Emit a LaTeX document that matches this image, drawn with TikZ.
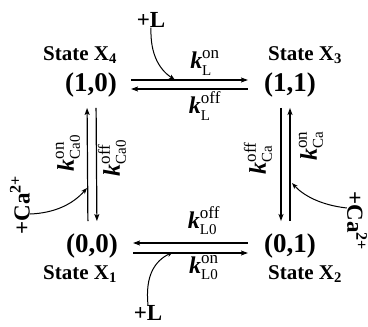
\documentclass[tikz,border=0pt]{standalone}
\usepackage{fontspec}
\setmainfont{Liberation Serif}
\usetikzlibrary{arrows.meta,calc}
\newcommand{\rate}[2]{$\mbox{\bfseries\itshape k}^{\mbox{\fontsize{17}{17}\selectfont #1}}_{\mbox{\fontsize{15}{15}\selectfont #2}}$}
\begin{document}
\begin{tikzpicture}[x=1pt,y=-1pt,
  statelbl/.style={font=\fontsize{21}{24}\selectfont\bfseries, inner sep=0pt},
  coordlbl/.style={font=\fontsize{27}{30}\selectfont\bfseries, inner sep=0pt},
  ratelbl/.style={font=\fontsize{24}{28}\selectfont, inner sep=0pt},
  ionlbl/.style={font=\fontsize{23}{26}\selectfont\bfseries, inner sep=0pt},
  arr/.style={line width=1.2pt, -{Stealth[length=7pt,width=5pt,inset=1.5pt]}},
  rarr/.style={line width=1.2pt, {Stealth[length=7pt,width=5pt,inset=1.5pt]}-},
  curv/.style={line width=1pt, -{Stealth[length=6pt,width=4.5pt,inset=1.5pt]}}]
\useasboundingbox (0,0) rectangle (368,327);
% states
\node[statelbl] (s4) at (80,55) {State X\textsubscript{4}};
\node[coordlbl] (c4) at (91,85) {(1,0)};
\node[statelbl] (s3) at (305,55) {State X\textsubscript{3}};
\node[coordlbl] (c3) at (290,85) {(1,1)};
\node[coordlbl] (c1) at (92,246) {(0,0)};
\node[statelbl] (s1) at (80,274) {State X\textsubscript{1}};
\node[coordlbl] (c2) at (290,246) {(0,1)};
\node[statelbl] (s2) at (305,274) {State X\textsubscript{2}};
% horizontal arrows top
\draw[arr, shorten <=14pt, shorten >=16pt] ([yshift=5pt]c4.east) -- ([yshift=5pt]c3.west);
\draw[rarr, shorten <=14pt, shorten >=16pt] ([yshift=-4pt]c4.east) -- ([yshift=-4pt]c3.west);
% horizontal arrows bottom
\draw[rarr, shorten <=15pt, shorten >=16pt] ([yshift=3pt]c1.east) -- ([yshift=3pt]c2.west);
\draw[arr, shorten <=15pt, shorten >=16pt] ([yshift=-7pt]c1.east) -- ([yshift=-7pt]c2.west);
% vertical left
\draw[rarr, shorten <=10.5pt, shorten >=12.5pt] ([xshift=-4pt]c4.south) -- ([xshift=-4pt]c1.north);
\draw[arr, shorten <=10.5pt, shorten >=12.5pt] ([xshift=5pt]c4.south) -- ([xshift=5pt]c1.north);
% vertical right
\draw[arr, shorten <=10.5pt, shorten >=12.5pt] ([xshift=-9pt]c3.south) -- ([xshift=-9pt]c2.north);
\draw[rarr, shorten <=10.5pt, shorten >=12.5pt] ([xshift=0pt]c3.south) -- ([xshift=0pt]c2.north);
% rate labels
\node[ratelbl] (kLon) at (205,63) {\rate{on}{L}};
\node[ratelbl] (kLoff) at (205,106) {\rate{off}{L}};
\node[ratelbl] (kL0off) at (204,221) {\rate{off}{L0}};
\node[ratelbl] (kL0on) at (204,268) {\rate{on}{L0}};
\node[ratelbl, rotate=90] (kCa0on) at (68,153) {\rate{on}{Ca0}};
\node[ratelbl, rotate=90] (kCa0off) at (112,158) {\rate{off}{Ca0}};
\node[ratelbl, rotate=90] (kCaoff) at (258,158) {\rate{off}{Ca}};
\node[ratelbl, rotate=90] (kCaon) at (311,146) {\rate{on}{Ca}};
% ligands
\node[ionlbl] (Lt) at (151,20) {+L};
\node[ionlbl] (Lb) at (148,313) {+L};
\node[ionlbl, rotate=90] (Cal) at (20,205) {+Ca\textsuperscript{2+}};
\node[ionlbl, rotate=-90] (Car) at (357,221) {+Ca\textsuperscript{2+}};
\coordinate (jt) at (175,80);
\coordinate (jb) at (173,252);
\coordinate (jl) at (87,188);
\coordinate (jr) at (292,183);
\draw[curv] (Lt.south) .. controls (150,55) and (160,70) .. (jt);
\draw[curv] (Lb.north) .. controls (145,275) and (155,261) .. (jb);
\draw[curv] ([yshift=-9pt]Cal.south) .. controls (55,213) and (73,204) .. (jl);
\draw[curv] ([yshift=13pt]Car.south) .. controls (320,205) and (303,195) .. (jr);
\end{tikzpicture}
\end{document}
